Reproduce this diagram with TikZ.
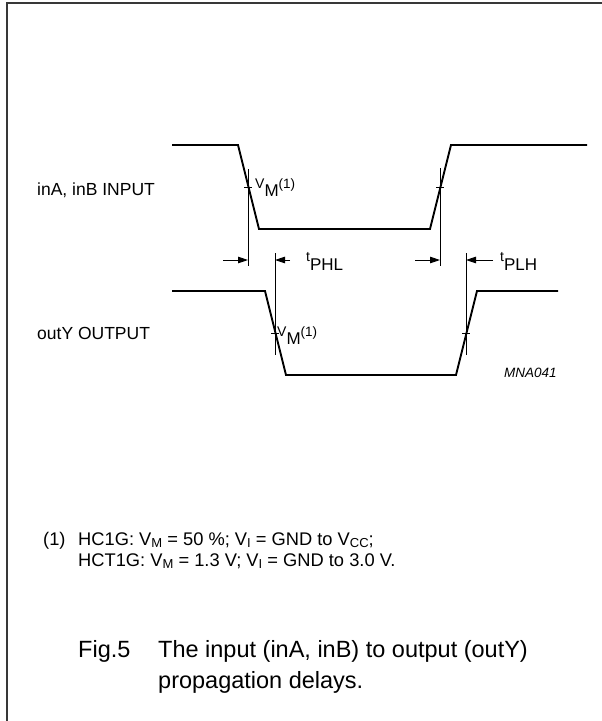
\documentclass[tikz,border=0pt]{standalone}
\usepackage{fontspec}
\setmainfont{Liberation Sans}
\usetikzlibrary{arrows.meta}
\newcommand\fs[1]{\fontsize{#1}{#1}\selectfont}
\newcommand\fsub[1]{\raisebox{-2.2pt}{\fs{13}#1}}
\tikzset{
  frame/.style={draw=black!78, line width=2pt},
  wave/.style={line width=1.9pt, line join=miter},
  thin/.style={line width=0.9pt},
  dim/.style={line width=0.9pt, -{Triangle[length=10pt,width=6.5pt]}},
  lbl/.style={anchor=base west, inner sep=0pt, font=\fs{17.5}},
  captxt/.style={anchor=base west, inner sep=0pt, font=\fs{23.5}},
  note/.style={anchor=base west, inner sep=0pt, font=\fs{18.3}},
}
\begin{document}
\begin{tikzpicture}[x=1pt,y=-1pt]
\useasboundingbox (0,0) rectangle (602,721);
% frame
\draw[frame] (7,721) -- (7,3) -- (602,3);
% waveforms
\draw[wave] (172,145) -- (238,145) -- (259,229) -- (430,229) -- (451,145) -- (587,145);
\draw[wave] (172,291) -- (265,291) -- (286,375) -- (456,375) -- (477,291) -- (558,291);
% reference coordinates
\coordinate (i1t) at (248,169); \coordinate (i1b) at (248,266);
\coordinate (i2t) at (440,168); \coordinate (i2b) at (440,266);
\coordinate (o1t) at (275,253); \coordinate (o1b) at (275,355);
\coordinate (o2t) at (466,253); \coordinate (o2b) at (466,355);
\draw[thin] (i1t) -- (i1b);
\draw[thin] (i2t) -- (i2b);
\draw[thin] (o1t) -- (o1b);
\draw[thin] (o2t) -- (o2b);
% ticks at V_M
\draw[thin] (244,187) -- (252,187);
\draw[thin] (436,187) -- (444,187);
\draw[thin] (271,333) -- (279,333);
\draw[thin] (462,333) -- (470,333);
% arrows
\coordinate (a1s) at (223,260); \coordinate (a1e) at (248,260);
\coordinate (a2s) at (290,260); \coordinate (a2e) at (275,260);
\coordinate (a3s) at (415,260); \coordinate (a3e) at (440,260);
\coordinate (a4s) at (493,260); \coordinate (a4e) at (466,260);
\draw[dim] (a1s) -- (a1e);
\draw[dim] (a2s) -- (a2e);
\draw[dim] (a3s) -- (a3e);
\draw[dim] (a4s) -- (a4e);
% labels
\node[lbl] (inl) at (37,195) {inA, inB INPUT};
\node[lbl] (outl) at (37,339) {outY OUTPUT};
\node[lbl] (vm1) at (255,188) {{\fs{14}V}\raisebox{-8pt}{\fs{17}M}{\fs{13.5}(1)}};
\node[lbl] (vm2) at (277,336) {{\fs{14}V}\raisebox{-8pt}{\fs{17}M}{\fs{13.5}(1)}};
\node[lbl] (tphl) at (306,261) {{\fs{14}t}\raisebox{-9pt}{\fs{17}PHL}};
\node[lbl] (tplh) at (500,261) {{\fs{14}t}\raisebox{-9pt}{\fs{17}PLH}};
\node[anchor=base west, inner sep=0pt, font=\fs{13.5}\itshape] (code) at (504,377) {MNA041};
% footnote
\node[note] (fn1) at (43,545) {(1)};
\node[note] (fn2) at (78,545) {HC1G: V\fsub{M} = 50 \%; V\fsub{I} = GND to V\fsub{CC};};
\node[note] (fn3) at (78,566) {HCT1G: V\fsub{M} = 1.3 V; V\fsub{I} = GND to 3.0 V.};
% caption
\node[captxt] (fig) at (78,657) {Fig.5};
\node[captxt] (c1) at (158,657) {The input (inA, inB) to output (outY)};
\node[captxt] (c2) at (158,688) {propagation delays.};
\end{tikzpicture}
\end{document}
